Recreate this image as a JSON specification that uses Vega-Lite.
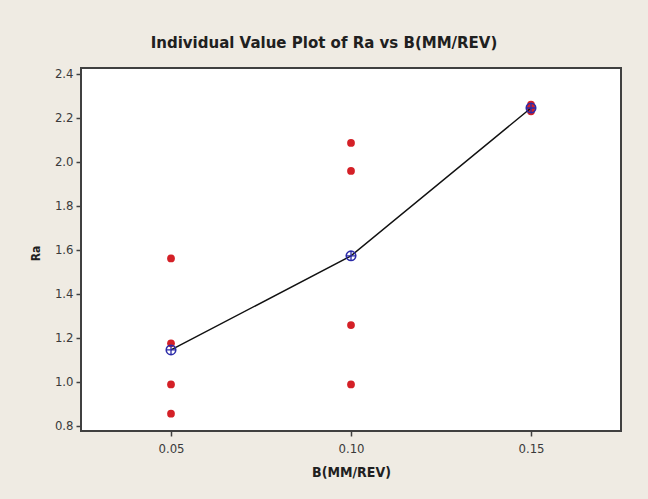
{
  "$schema": "https://vega.github.io/schema/vega-lite/v6.json",
  "width": 540,
  "height": 363,
  "autosize": {"type": "none"},
  "padding": {"left": 81, "top": 68, "right": 27, "bottom": 68},
  "background": "#efebe3",
  "title": {
    "text": "Individual Value Plot of Ra vs B(MM/REV)",
    "fontSize": 15,
    "fontWeight": "bold",
    "font": "DejaVu Sans",
    "color": "#202020",
    "anchor": "middle",
    "dx": -27,
    "offset": 17
  },
  "config": {
    "view": {"stroke": "#404040", "strokeWidth": 2, "fill": "white"},
    "axis": {
      "grid": false,
      "domain": false,
      "tickSize": 5,
      "tickColor": "#404040",
      "tickWidth": 1.5,
      "labelFont": "DejaVu Sans Condensed",
      "labelFontSize": 13,
      "labelColor": "#3a3a3a",
      "titleFont": "DejaVu Sans Condensed",
      "titleFontSize": 14,
      "titleFontWeight": "bold",
      "titleColor": "#202020"
    }
  },
  "data": {
    "values": [
      {"B": 0.05, "Ra": 1.561},
      {"B": 0.05, "Ra": 1.175},
      {"B": 0.05, "Ra": 0.988},
      {"B": 0.05, "Ra": 0.855},
      {"B": 0.10, "Ra": 2.086},
      {"B": 0.10, "Ra": 1.959},
      {"B": 0.10, "Ra": 1.258},
      {"B": 0.10, "Ra": 0.988},
      {"B": 0.15, "Ra": 2.230},
      {"B": 0.15, "Ra": 2.240},
      {"B": 0.15, "Ra": 2.250},
      {"B": 0.15, "Ra": 2.260}
    ]
  },
  "encoding": {
    "x": {
      "field": "B",
      "type": "quantitative",
      "scale": {"domain": [0.025, 0.175], "nice": false, "zero": false},
      "axis": {
        "title": "B(MM/REV)",
        "values": [0.05, 0.1, 0.15],
        "format": ".2f",
        "labelPadding": 6,
        "titleY": 41,
        "titleBaseline": "middle"
      }
    }
  },
  "layer": [
    {
      "mark": {"type": "point", "shape": "circle", "filled": true, "size": 60, "color": "#d42027", "opacity": 1},
      "encoding": {
        "y": {
          "field": "Ra",
          "type": "quantitative",
          "scale": {"domain": [0.776, 2.427], "nice": false, "zero": false},
          "axis": {
            "title": "Ra",
            "values": [0.8, 1.0, 1.2, 1.4, 1.6, 1.8, 2.0, 2.2, 2.4],
            "format": ".1f",
            "labelPadding": 3,
            "titleX": -46,
            "titleY": 185,
            "titleAngle": 270,
            "titleAlign": "center",
            "titleBaseline": "middle",
            "titleFontSize": 12
          }
        }
      }
    },
    {
      "transform": [{"aggregate": [{"op": "mean", "field": "Ra", "as": "mean"}], "groupby": ["B"]}],
      "mark": {"type": "line", "color": "#111111", "strokeWidth": 1.5},
      "encoding": {"y": {"field": "mean", "type": "quantitative"}}
    },
    {
      "transform": [{"aggregate": [{"op": "mean", "field": "Ra", "as": "mean"}], "groupby": ["B"]}],
      "mark": {"type": "point", "shape": "circle", "filled": false, "size": 90, "stroke": "#2b2ba8", "strokeWidth": 1.6, "opacity": 1},
      "encoding": {"y": {"field": "mean", "type": "quantitative"}}
    },
    {
      "transform": [{"aggregate": [{"op": "mean", "field": "Ra", "as": "mean"}], "groupby": ["B"]}],
      "mark": {"type": "point", "shape": "M-1,0L1,0M0,-1L0,1", "filled": false, "size": 90, "stroke": "#2b2ba8", "strokeWidth": 1.3, "opacity": 1},
      "encoding": {"y": {"field": "mean", "type": "quantitative"}}
    }
  ]
}
